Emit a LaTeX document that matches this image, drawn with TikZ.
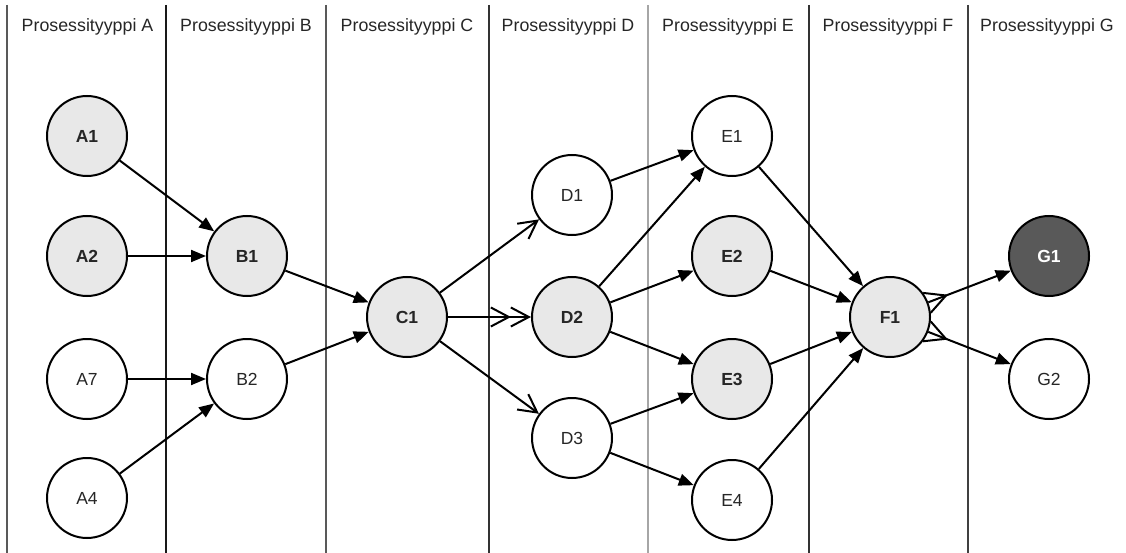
\documentclass[tikz,border=0pt]{standalone}
\usepackage{fontspec}
\setmainfont{Liberation Sans}
\usetikzlibrary{arrows.meta,calc}
\begin{document}
\begin{tikzpicture}[x=1pt,y=-1pt,
  proc/.style={circle, draw=black, line width=2pt, minimum size=80pt, inner sep=0pt, fill=white,
    font=\fontsize{17.5}{20}\selectfont, text=black!85},
  hot/.style={proc, fill=black!9, font=\fontsize{17.5}{20}\selectfont\bfseries},
  darkp/.style={proc, fill=black!65, text=white, font=\fontsize{17.5}{20}\selectfont\bfseries},
  lane/.style={line width=1.3pt},
  title/.style={font=\fontsize{17.8}{21}\selectfont, text=black!85},
  conn/.style={line width=2pt, -{Triangle[length=15pt,width=12pt]}},
  onebarb/.style={line width=2pt, -{Straight Barb[length=18pt,width=19pt]}},
  crow/.style={line width=2pt}
]
\useasboundingbox (0,0) rectangle (1126,553);
% swimlane separators
\draw[lane, draw=black!65] (7,5) -- (7,553);
\draw[lane, draw=black!90] (166,5) -- (166,553);
\draw[lane, draw=black!65] (326,5) -- (326,553);
\draw[lane, draw=black!80] (489,5) -- (489,553);
\draw[lane, draw=black!35] (648,5) -- (648,553);
\draw[lane, draw=black!80] (809,5) -- (809,553);
\draw[lane, draw=black!75] (968,5) -- (968,553);
% titles
\node[title] (tA) at (87.5,27) {Prosessityyppi A};
\node[title] (tB) at (246,27) {Prosessityyppi B};
\node[title] (tC) at (407,27) {Prosessityyppi C};
\node[title] (tD) at (568,27) {Prosessityyppi D};
\node[title] (tE) at (728,27) {Prosessityyppi E};
\node[title] (tF) at (888,27) {Prosessityyppi F};
\node[title] (tG) at (1047,27) {Prosessityyppi G};
% nodes
\node[hot]  (A1) at (87,136) {A1};
\node[hot]  (A2) at (87,256) {A2};
\node[proc] (A7) at (87,379) {A7};
\node[proc] (A4) at (87,498) {A4};
\node[hot]  (B1) at (247,256) {B1};
\node[proc] (B2) at (247,379) {B2};
\node[hot]  (C1) at (407,317) {C1};
\node[proc] (D1) at (572,195) {D1};
\node[hot]  (D2) at (572,317) {D2};
\node[proc] (D3) at (572,438) {D3};
\node[proc] (E1) at (732,136) {E1};
\node[hot]  (E2) at (732,256) {E2};
\node[hot]  (E3) at (732,379) {E3};
\node[proc] (E4) at (732,500) {E4};
\node[hot]  (F1) at (890,317) {F1};
\node[darkp] (G1) at (1049,256) {G1};
\node[proc] (G2) at (1049,379) {G2};
% connectors
\draw[conn] (A1) -- (B1);
\draw[conn] (A2) -- (B1);
\draw[conn] (A7) -- (B2);
\draw[conn] (A4) -- (B2);
\draw[conn] (B1) -- (C1);
\draw[conn] (B2) -- (C1);
\draw[onebarb] (C1) -- (D1);
\draw[onebarb] (C1) -- (D2);
\draw[onebarb, shorten >=20pt] (C1) -- (D2);
\draw[onebarb] (C1) -- (D3);
\draw[conn] (D1) -- (E1);
\draw[conn] (D2) -- (E1);
\draw[conn] (D2) -- (E2);
\draw[conn] (D2) -- (E3);
\draw[conn] (D3) -- (E3);
\draw[conn] (D3) -- (E4);
\draw[conn] (E1) -- (F1);
\draw[conn] (E2) -- (F1);
\draw[conn] (E3) -- (F1);
\draw[conn] (E4) -- (F1);
\draw[conn] (F1) -- (G1);
\draw[conn] (F1) -- (G2);
% crow's feet at F1
\coordinate (cg1) at ($(F1)!60pt!(G1)$);
\coordinate (cg2) at ($(F1)!60pt!(G2)$);
\draw[crow] ($(F1)!41pt!15:(G1)$) -- (cg1) -- ($(F1)!41pt!-15:(G1)$);
\draw[crow] ($(F1)!41pt!15:(G2)$) -- (cg2) -- ($(F1)!41pt!-15:(G2)$);
\end{tikzpicture}
\end{document}
